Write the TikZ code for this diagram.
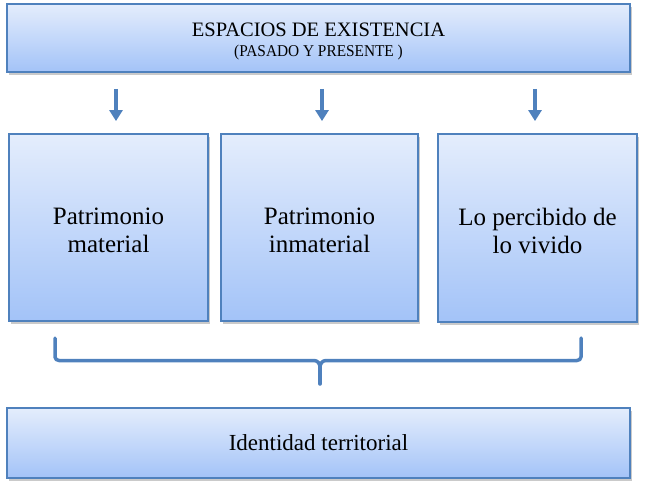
\documentclass[tikz,border=0pt]{standalone}
\usepackage{fontspec}
\setmainfont{Liberation Serif}
\newfontfamily\condserif[FakeStretch=0.93]{Liberation Serif}
\usetikzlibrary{arrows.meta,shadows}
\definecolor{bord}{RGB}{79,129,189}
\definecolor{topc}{RGB}{228,237,252}
\definecolor{botc}{RGB}{163,195,248}
\tikzset{
  box/.style={draw=bord, line width=1.8pt, top color=topc, bottom color=botc,
    inner sep=0pt,
    drop shadow={shadow xshift=1.5pt, shadow yshift=-3pt, opacity=0.35, fill=black!60}},
  txt/.style={inner sep=0pt, align=center},
  bigtxt/.style={txt, font=\fontsize{25}{28.3}\selectfont},
  darrow/.style={draw=bord, line width=4.8pt, -{Triangle[width=13pt,length=11pt]}},
  bracket/.style={draw=bord, line width=3.5pt, line cap=round, line join=round}
}
\begin{document}
\begin{tikzpicture}[x=1pt,y=1pt]
\useasboundingbox (0,0) rectangle (645,488);
\node[box, minimum width=623pt, minimum height=68pt] (top) at (318.5,450) {};
\node[box, minimum width=199pt, minimum height=187pt] (b1) at (108.5,260.5) {};
\node[box, minimum width=197pt, minimum height=187pt] (b2) at (319.5,260.5) {};
\node[box, minimum width=199pt, minimum height=188pt] (b3) at (537.5,260) {};
\node[box, minimum width=623pt, minimum height=70pt] (bot) at (318.5,45) {};
\node[txt, font=\fontsize{20.5}{19.4}\selectfont] (topT) at ([yshift=-3.6pt]top.center)
  {ESPACIOS DE EXISTENCIA\\{\condserif\fontsize{16.5}{19.4}\selectfont (PASADO Y PRESENTE )}};
\node[bigtxt] (b1T) at (b1.center |- 0,257.4) {Patrimonio\\material};
\node[bigtxt] (b2T) at (b2.center |- 0,257.4) {Patrimonio\\inmaterial};
\node[bigtxt] (b3T) at (b3.center |- 0,257.4) {Lo percibido de\\lo vivido};
\node[txt, font=\fontsize{23}{26}\selectfont] (botT) at (bot.center) {Identidad territorial};
\draw[darrow] ([xshift=7.5pt]top.south -| b1.north) ++(0,-16) -- ([xshift=7.5pt,yshift=12pt]b1.north);
\draw[darrow] ([xshift=2.5pt]top.south -| b2.north) ++(0,-16) -- ([xshift=2.5pt,yshift=12pt]b2.north);
\draw[darrow] ([xshift=-2.5pt]top.south -| b3.north) ++(0,-16) -- ([xshift=-2.5pt,yshift=12pt]b3.north);
\coordinate (bl) at (55,150);
\coordinate (br) at (581,150);
\coordinate (bc) at (320,104);
\draw[bracket] (bl) -- (55,131) to[out=-90,in=180] (59,127.5) -- (314,127.5)
  to[out=0,in=90] (320,121) to[out=90,in=180] (326,127.5) -- (577,127.5)
  to[out=0,in=-90] (581,131) -- (br);
\draw[bracket] (320,123) -- (bc);
\end{tikzpicture}
\end{document}
